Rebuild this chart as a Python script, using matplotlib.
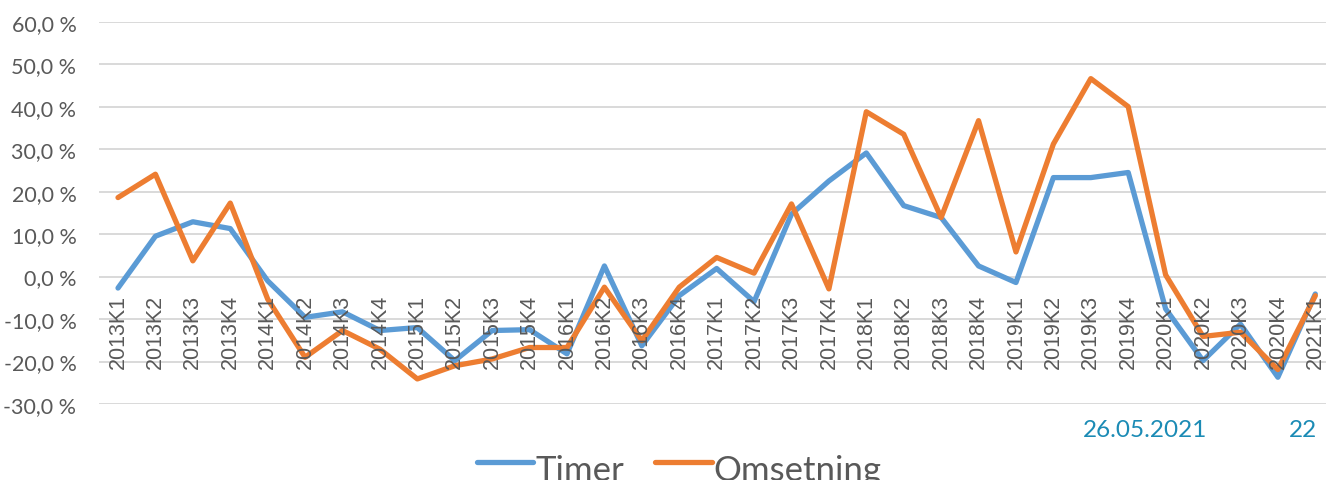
import matplotlib
matplotlib.use("Agg")
import matplotlib.pyplot as plt
from matplotlib.lines import Line2D
from matplotlib.ticker import FuncFormatter, MultipleLocator
import matplotlib.transforms as mtrans

categories = [f"{y}K{q}" for y in range(2013, 2021) for q in range(1, 5)] + ["2021K1"]

timer = [-2.7, 9.5, 12.9, 11.3, -1.0, -9.6, -8.3, -12.7, -12.0, -19.8, -12.7, -12.5,
         -18.2, 2.5, -16.3, -4.5, 1.9, -5.9, 14.7, 22.5, 29.1, 16.7, 13.9, 2.5,
         -1.4, 23.3, 23.3, 24.5, -7.6, -19.8, -11.2, -23.7, -4.1]
omsetning = [18.6, 24.1, 3.7, 17.3, -5.3, -19.0, -12.7, -17.1, -24.1, -21.0, -19.4, -16.7,
             -16.7, -2.5, -15.1, -2.5, 4.5, 0.8, 17.1, -2.9, 38.8, 33.5, 13.9, 36.7,
             5.8, 31.2, 46.6, 40.0, 0.4, -14.1, -13.1, -21.9, -4.5]

series_names = ["Timer", "Omsetning"]
colors = ["#5B9BD5", "#ED7D31"]
footer_date = "26.05.2021"
footer_page = "22"

W, H = 1326, 481
fig = plt.figure(figsize=(W / 100, H / 100), dpi=100)
left, right = 99.3 / W, 1334 / W
top_px, bot_px = 22.7, 405
ax = fig.add_axes([left, 1 - bot_px / H, right - left, (bot_px - top_px) / H])

x = list(range(len(categories)))
ax.plot(x, timer, color=colors[0], lw=3.8, solid_joinstyle="round", solid_capstyle="round", zorder=3)
ax.plot(x, omsetning, color=colors[1], lw=3.8, solid_joinstyle="round", solid_capstyle="round", zorder=3)

ax.set_xlim(-0.5, len(categories) - 0.5)
ax.set_ylim(-30, 60)
ax.yaxis.set_major_locator(MultipleLocator(10))
ax.yaxis.set_major_formatter(FuncFormatter(lambda v, p: f"{v:.1f} %".replace(".", ",")))
ax.grid(axis="y", color="#D9D9D9", lw=1.4)
ax.set_axisbelow(True)
for s in ax.spines.values():
    s.set_visible(False)
ax.tick_params(axis="y", length=0, pad=16.5, labelsize=15.5, labelcolor="#595959")
for t in ax.get_yticklabels():
    t.set_fontfamily("Lato")

ax.set_xticks(x)
ax.set_xticklabels([])
ax.tick_params(axis="x", length=0)
zero_frac = (0 - (-30)) / 90
trans = mtrans.blended_transform_factory(ax.transData, ax.transAxes) + \
    mtrans.ScaledTranslation(0, -17 / 100, fig.dpi_scale_trans)
for xi, lab in zip(x, categories):
    ax.text(xi, zero_frac, lab, transform=trans, rotation=90, ha="center", va="top",
            fontsize=15.5, color="#595959", family="Liberation Sans")

# legend drawn manually at bottom
ly = 1 - 463 / H
fig.add_artist(Line2D([477 / W, 533 / W], [ly, ly], color=colors[0], lw=3.8, solid_capstyle="round"))
fig.text(536 / W, 1 - 481 / H, series_names[0], fontsize=25, color="#595959", family="Lato",
         ha="left", va="baseline")
fig.add_artist(Line2D([655 / W, 712 / W], [ly, ly], color=colors[1], lw=3.8, solid_capstyle="round"))
fig.text(713 / W, 1 - 481 / H, series_names[1], fontsize=25, color="#595959", family="Lato",
         ha="left", va="baseline")

fig.text(1083 / W, 1 - 437 / H, footer_date, fontsize=17.5, color="#1B8BB5", family="Lato",
         ha="left", va="baseline")
fig.text(1317 / W, 1 - 437 / H, footer_page, fontsize=17.5, color="#1B8BB5", family="Lato",
         ha="right", va="baseline")

fig.savefig("out.png", dpi=100)
